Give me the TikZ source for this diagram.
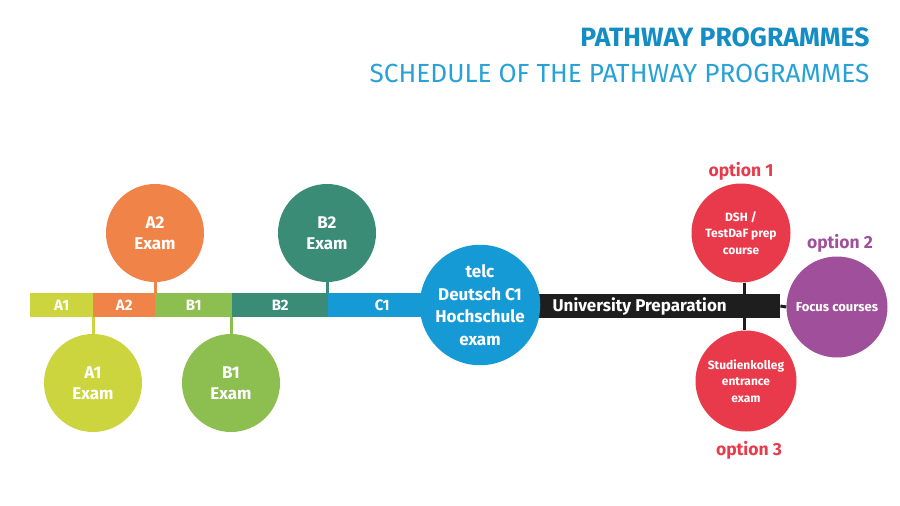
\documentclass[tikz,border=0pt]{standalone}
\usepackage{fontspec}
\setmainfont{Fira Sans}
\definecolor{cAone}{RGB}{204,213,62}
\definecolor{cAtwo}{RGB}{240,131,72}
\definecolor{cBone}{RGB}{141,190,80}
\definecolor{cBtwo}{RGB}{58,140,119}
\definecolor{cCone}{RGB}{22,154,214}
\definecolor{cBlack}{RGB}{30,30,30}
\definecolor{cRed}{RGB}{232,58,74}
\definecolor{cPurple}{RGB}{160,80,154}
\definecolor{cTitle}{RGB}{20,140,196}
\definecolor{cSub}{RGB}{40,162,214}
\begin{document}
\begin{tikzpicture}[x=1pt,y=-1pt,
  seg/.style={rectangle,anchor=west,minimum height=24pt,inner sep=0pt,text=white,font=\fontsize{15}{16}\selectfont\bfseries},
  exam/.style={circle,minimum size=98pt,inner sep=0pt,text=white,align=center,font=\fontsize{17}{21}\selectfont\bfseries},
  opt/.style={circle,minimum size=100pt,inner sep=0pt,text=white,align=center,font=\fontsize{12}{16.5}\selectfont\bfseries},
  optlab/.style={font=\fontsize{17.5}{19}\selectfont\bfseries},
  conn/.style={line width=3pt}
]
\useasboundingbox (0,0) rectangle (900,506);
\node[anchor=east,text=cTitle,font=\fontsize{26.5}{28}\selectfont\bfseries] (t1) at (873,37) {PATHWAY PROGRAMMES};
\node[anchor=east,text=cSub,font=\fontsize{26.2}{28}\selectfont] (t2) at (873,73) {SCHEDULE OF THE PATHWAY PROGRAMMES};
% bar segments
\node[seg,fill=cAone,minimum width=63pt] (sA1) at (30,305) {A1};
\node[seg,fill=cAtwo,minimum width=62pt] (sA2) at (93,305) {A2};
\node[seg,fill=cBone,minimum width=77pt] (sB1) at (155,305) {B1};
\node[seg,fill=cBtwo,minimum width=96pt] (sB2) at (232,305) {B2};
\node[seg,fill=cCone,minimum width=112pt,text width=92pt,align=center] (sC1) at (328,305) {C1\hspace*{4pt}};
\node[seg,fill=cBlack,minimum width=245pt,align=center,font=\fontsize{17}{18}\selectfont\bfseries] (ub) at (535,306) {\hspace*{4pt}University Preparation\hspace*{40pt}};
% exam circles
\node[exam,fill=cAtwo] (eA2) at (155,233) {A2\\Exam};
\node[exam,fill=cBtwo] (eB2) at (327,233) {B2\\Exam};
\node[exam,fill=cAone] (eA1) at (93,383) {A1\\Exam};
\node[exam,fill=cBone] (eB1) at (231,383) {B1\\Exam};
\draw[conn,cAtwo] (eA2) -- (eA2 |- sA2.north);
\draw[conn,cBtwo] (eB2) -- (eB2 |- sB2.north);
\draw[conn,cAone] (eA1) -- (eA1 |- sA1.south);
\draw[conn,cBone] (eB1) -- (eB1 |- sB1.south);
% telc
\node[circle,fill=cCone,minimum size=116pt,inner sep=0pt,text=white,align=center,font=\fontsize{17}{22.5}\selectfont\bfseries] (telc) at (480,305) {telc\\Deutsch C1\\Hochschule\\exam};
% options
\node[opt,fill=cRed,minimum size=99pt] (o1) at (741,233) {DSH /\\TestDaF prep\\course};
\node[opt,fill=cPurple,minimum size=101pt,font=\fontsize{13}{16}\selectfont\bfseries] (o2) at (837,307) {Focus courses};
\node[opt,fill=cRed,minimum size=101pt] (o3) at (746,381) {Studienkolleg\\entrance\\exam};
\coordinate (j1) at (744,305);
\draw[conn,cBlack] (o1.south -| j1) -- (j1 |- ub.north);
\draw[conn,cBlack] (j1 |- ub.south) -- (j1 |- o3.north);
\draw[conn,cBlack] (ub.east) -- (o2.west);
\node[optlab,text=cRed] (l1) at (741,171) {option 1};
\node[optlab,text=cPurple] (l2) at (840,243) {option 2};
\node[optlab,text=cRed] (l3) at (749,450) {option 3};
\end{tikzpicture}
\end{document}
